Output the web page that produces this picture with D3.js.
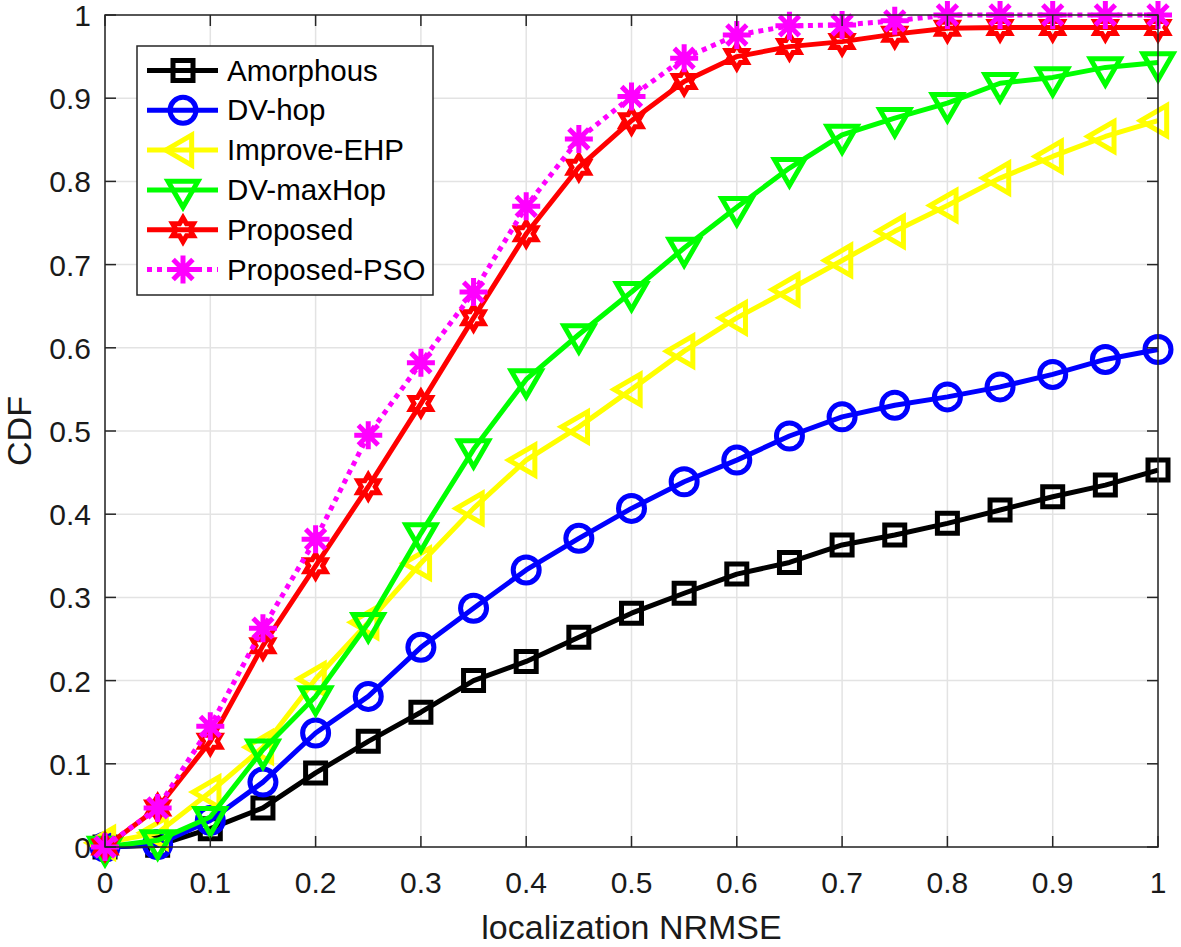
<!DOCTYPE html>
<html>
<head>
<meta charset="utf-8">
<script src="https://cdn.jsdelivr.net/npm/d3@7"></script>
<style>
  html, body { margin: 0; padding: 0; background: #fff; }
  svg { display: block; font-family: "Liberation Sans", Arial, Helvetica, sans-serif; }
</style>
</head>
<body>
<svg id="chart" width="1181" height="947"></svg>
<script>
// ---------------- data ----------------
const xValues = [0, 0.05, 0.1, 0.15, 0.2, 0.25, 0.3, 0.35, 0.4, 0.45, 0.5, 0.55, 0.6, 0.65, 0.7, 0.75, 0.8, 0.85, 0.9, 0.95, 1];
const amorphous = [0, 0.002, 0.022, 0.047, 0.089, 0.127, 0.162, 0.2, 0.223, 0.252, 0.281, 0.305, 0.328, 0.342, 0.363, 0.375, 0.389, 0.405, 0.421, 0.435, 0.453];
const dvHop = [0, 0.003, 0.032, 0.078, 0.137, 0.181, 0.24, 0.287, 0.333, 0.371, 0.407, 0.439, 0.465, 0.494, 0.517, 0.531, 0.541, 0.553, 0.568, 0.586, 0.598];
const improveEHP = [0.005, 0.017, 0.066, 0.12, 0.202, 0.27, 0.341, 0.407, 0.465, 0.505, 0.55, 0.596, 0.636, 0.67, 0.705, 0.74, 0.771, 0.804, 0.83, 0.854, 0.873];
const dvMaxHop = [0, 0.008, 0.036, 0.117, 0.181, 0.269, 0.377, 0.478, 0.562, 0.616, 0.667, 0.72, 0.769, 0.816, 0.856, 0.876, 0.894, 0.918, 0.925, 0.937, 0.943];
const proposed = [0, 0.047, 0.127, 0.242, 0.338, 0.433, 0.533, 0.636, 0.737, 0.817, 0.873, 0.92, 0.95, 0.962, 0.968, 0.977, 0.984, 0.985, 0.985, 0.985, 0.985];
const proposedPSO = [0, 0.047, 0.145, 0.263, 0.37, 0.495, 0.582, 0.667, 0.77, 0.851, 0.902, 0.948, 0.976, 0.987, 0.988, 0.993, 1.0, 1.0, 1.0, 1.0, 1.0];

const seriesNames = ["Amorphous", "DV-hop", "Improve-EHP", "DV-maxHop", "Proposed", "Proposed-PSO"];
const seriesColors = ["#000000", "#0000ff", "#ffff00", "#00ff00", "#ff0000", "#ff00ff"];
const seriesMarkers = ["square", "circle", "triangleLeft", "triangleDown", "hexagram", "asterisk"];
const seriesDash = [null, null, null, null, null, "5,5"];
const seriesValues = [amorphous, dvHop, improveEHP, dvMaxHop, proposed, proposedPSO];

const xTicks = [0, 0.1, 0.2, 0.3, 0.4, 0.5, 0.6, 0.7, 0.8, 0.9, 1];
const yTicks = [0, 0.1, 0.2, 0.3, 0.4, 0.5, 0.6, 0.7, 0.8, 0.9, 1];
const xLabel = "localization NRMSE";
const yLabel = "CDF";

// ---------------- layout ----------------
const plot = { left: 105, right: 1158, top: 15, bottom: 847 };
const x = d3.scaleLinear().domain([0, 1]).range([plot.left, plot.right]);
const y = d3.scaleLinear().domain([0, 1]).range([plot.bottom, plot.top]);

const svg = d3.select("#chart");
const axisColor = "#262626";
const gridColor = "#e3e3e3";

// grid
const grid = svg.append("g");
grid.selectAll("line.gx").data(xTicks).join("line")
  .attr("x1", d => x(d)).attr("x2", d => x(d))
  .attr("y1", plot.top).attr("y2", plot.bottom)
  .attr("stroke", gridColor).attr("stroke-width", 1.5);
grid.selectAll("line.gy").data(yTicks).join("line")
  .attr("y1", d => y(d)).attr("y2", d => y(d))
  .attr("x1", plot.left).attr("x2", plot.right)
  .attr("stroke", gridColor).attr("stroke-width", 1.5);

// ---------------- marker shapes ----------------
function markerPath(type) {
  const p = d3.path();
  if (type === "square") {
    const s = 10;
    p.rect(-s, -s, 2 * s, 2 * s);
  } else if (type === "circle") {
    p.arc(0, 0, 13, 0, 2 * Math.PI);
    p.closePath();
  } else if (type === "triangleDown") {
    const w = 15, h = 26;
    p.moveTo(-w, -h / 3); p.lineTo(w, -h / 3); p.lineTo(0, 2 * h / 3); p.closePath();
  } else if (type === "triangleLeft") {
    const w = 15, h = 26;
    p.moveTo(-2 * h / 3, 0); p.lineTo(h / 3, -w); p.lineTo(h / 3, w); p.closePath();
  } else if (type === "hexagram") {
    const R = 12, r = R / Math.sqrt(3);
    for (let i = 0; i < 12; i++) {
      const a = -Math.PI / 2 + i * Math.PI / 6;
      const rad = i % 2 === 0 ? R : r;
      const px = rad * Math.cos(a), py = rad * Math.sin(a);
      if (i === 0) p.moveTo(px, py); else p.lineTo(px, py);
    }
    p.closePath();
  } else if (type === "asterisk") {
    const R = 14;
    for (let k = 0; k < 4; k++) {
      const a = k * Math.PI / 4;
      p.moveTo(-R * Math.cos(a), -R * Math.sin(a));
      p.lineTo(R * Math.cos(a), R * Math.sin(a));
    }
  }
  return p.toString();
}

// ---------------- series ----------------
const line = d3.line().x(d => x(d[0])).y(d => y(d[1]));
const seriesG = svg.append("g");
seriesValues.forEach((vals, i) => {
  const pts = xValues.map((xv, j) => [xv, vals[j]]);
  const g = seriesG.append("g");
  g.append("path")
    .attr("d", line(pts))
    .attr("fill", "none")
    .attr("stroke", seriesColors[i])
    .attr("stroke-width", 5)
    .attr("stroke-linejoin", "round")
    .attr("stroke-dasharray", seriesDash[i]);
  g.selectAll("path.m").data(pts).join("path")
    .attr("class", "m")
    .attr("transform", d => `translate(${x(d[0])},${y(d[1])})`)
    .attr("d", markerPath(seriesMarkers[i]))
    .attr("fill", "none")
    .attr("stroke", seriesColors[i])
    .attr("stroke-width", 5)
    .attr("stroke-linejoin", "miter");
});

// ---------------- axes box & ticks ----------------
const axes = svg.append("g");
axes.append("rect")
  .attr("x", plot.left).attr("y", plot.top)
  .attr("width", plot.right - plot.left).attr("height", plot.bottom - plot.top)
  .attr("fill", "none").attr("stroke", axisColor).attr("stroke-width", 1.5);
const tl = 11;
xTicks.forEach(t => {
  axes.append("line").attr("x1", x(t)).attr("x2", x(t)).attr("y1", plot.bottom).attr("y2", plot.bottom - tl)
    .attr("stroke", axisColor).attr("stroke-width", 1.5);
  axes.append("line").attr("x1", x(t)).attr("x2", x(t)).attr("y1", plot.top).attr("y2", plot.top + tl)
    .attr("stroke", axisColor).attr("stroke-width", 1.5);
});
yTicks.forEach(t => {
  axes.append("line").attr("y1", y(t)).attr("y2", y(t)).attr("x1", plot.left).attr("x2", plot.left + tl)
    .attr("stroke", axisColor).attr("stroke-width", 1.5);
  axes.append("line").attr("y1", y(t)).attr("y2", y(t)).attr("x1", plot.right).attr("x2", plot.right - tl)
    .attr("stroke", axisColor).attr("stroke-width", 1.5);
});

// tick labels
const fmt = d => (d === 0 ? "0" : d === 1 ? "1" : d3.format(".1f")(d));
svg.append("g").selectAll("text").data(xTicks).join("text")
  .attr("x", d => x(d)).attr("y", 893)
  .attr("text-anchor", "middle")
  .attr("font-size", 30).attr("fill", "#1a1a1a")
  .text(fmt);
svg.append("g").selectAll("text").data(yTicks).join("text")
  .attr("x", 91).attr("y", d => y(d) + 11)
  .attr("text-anchor", "end")
  .attr("font-size", 30).attr("fill", "#1a1a1a")
  .text(fmt);

// axis labels
svg.append("text")
  .attr("x", (plot.left + plot.right) / 2).attr("y", 939)
  .attr("text-anchor", "middle").attr("font-size", 34).attr("fill", "#1a1a1a")
  .text(xLabel);
svg.append("text")
  .attr("transform", `translate(31,${(plot.top + plot.bottom) / 2}) rotate(-90)`)
  .attr("text-anchor", "middle").attr("font-size", 34).attr("fill", "#1a1a1a")
  .text(yLabel);

// ---------------- legend ----------------
const lg = svg.append("g");
lg.append("rect")
  .attr("x", 137).attr("y", 46).attr("width", 296).attr("height", 249)
  .attr("fill", "#fff").attr("stroke", axisColor).attr("stroke-width", 1.5);
seriesNames.forEach((name, i) => {
  const cy = 70.5 + i * 39.8;
  lg.append("line")
    .attr("x1", 147).attr("x2", 218).attr("y1", cy).attr("y2", cy)
    .attr("stroke", seriesColors[i]).attr("stroke-width", 5)
    .attr("stroke-dasharray", seriesDash[i]);
  lg.append("path")
    .attr("transform", `translate(183,${cy})`)
    .attr("d", markerPath(seriesMarkers[i]))
    .attr("fill", "none").attr("stroke", seriesColors[i]).attr("stroke-width", 5)
    .attr("stroke-linejoin", "miter");
  lg.append("text")
    .attr("x", 227).attr("y", cy + 10)
    .attr("font-size", 29.5).attr("fill", "#000")
    .text(name);
});
</script>
</body>
</html>
